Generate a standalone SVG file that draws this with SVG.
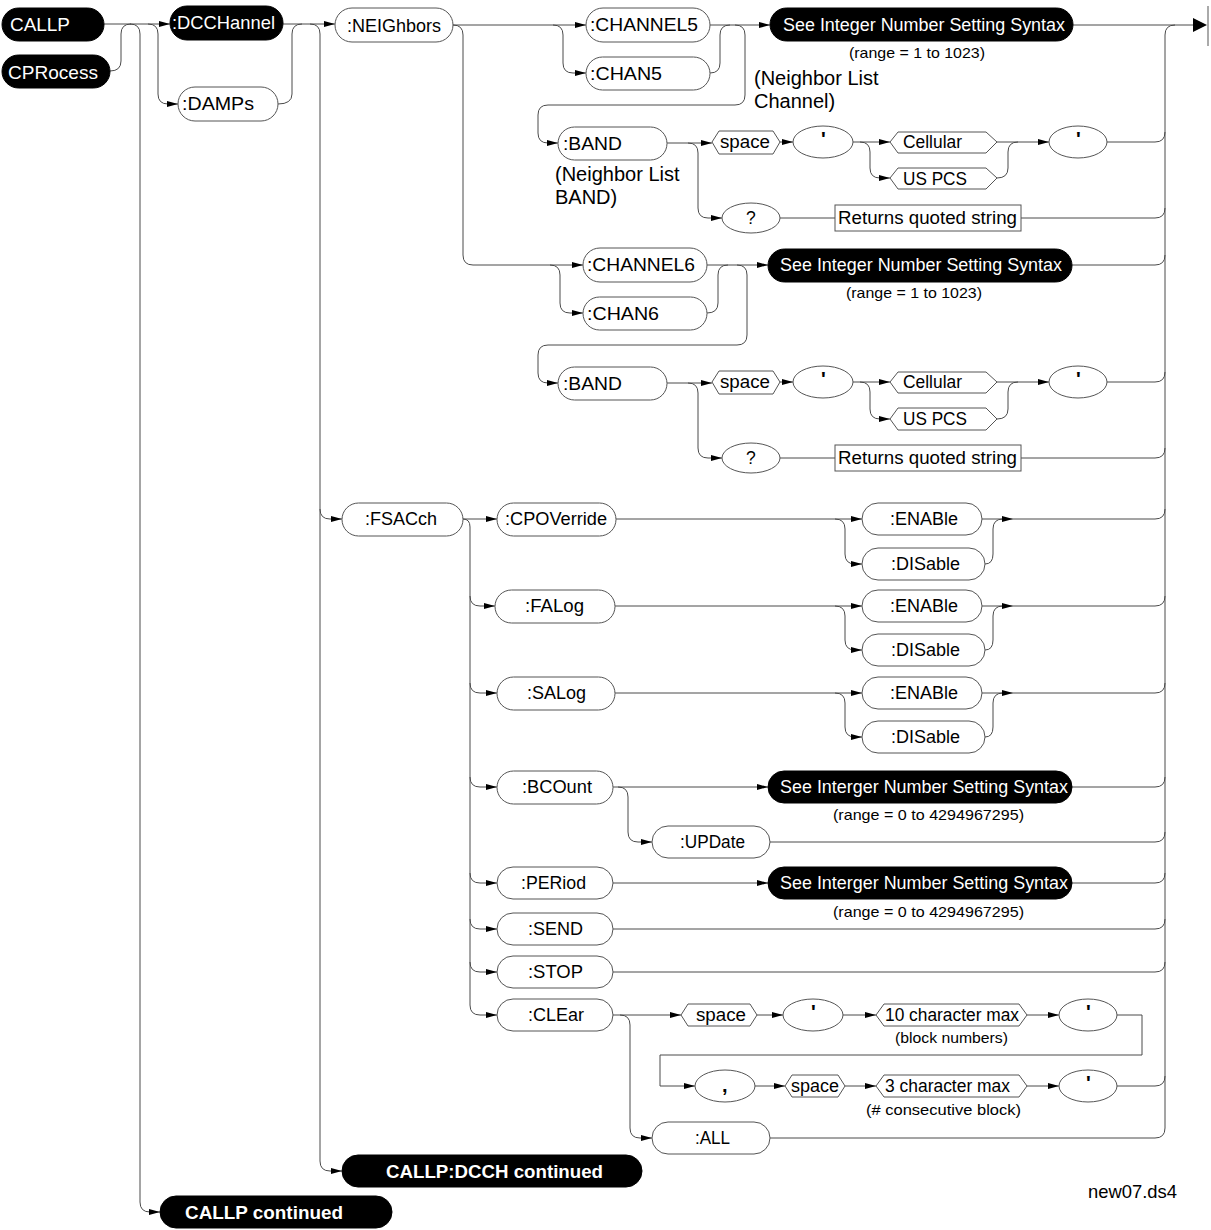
<svg xmlns="http://www.w3.org/2000/svg" width="1211" height="1230" viewBox="0 0 1211 1230">
<defs>
<marker id="ar" markerWidth="11" markerHeight="8" refX="11" refY="4" orient="auto" markerUnits="userSpaceOnUse"><path d="M0,1 L11,4 L0,7 z" fill="#000"/></marker>
<style>
.ln{fill:none;stroke:#4a4a4a;stroke-width:1}
.w{fill:#fff;stroke:#555;stroke-width:1}
.b{fill:#000;stroke:#000}
.t{font-family:"Liberation Sans",Arial,sans-serif;font-size:19px;fill:#000}
.s{font-size:15px}
.m{font-size:17.5px}
.q{font-size:20px;font-weight:bold}
.wt{fill:#fff}
.bd{font-weight:bold}
</style>
</defs>
<rect width="1211" height="1230" fill="#fff"/>
<g id="connectors" class="ln">
<path d="M104,24 H170" marker-end="url(#ar)"/>
<path d="M110,71 Q121,71 121,61 V34 Q121,24 131,24"/>
<path d="M130,24 Q140,24 140,34 V1202 Q140,1212 150,1212 H160" marker-end="url(#ar)"/>
<path d="M148,24 Q158,24 158,34 V94 Q158,104 168,104 H178" marker-end="url(#ar)"/>
<path d="M278,104 Q292,104 292,94 V34 Q292,24 302,24"/>
<path d="M283,24 H335" marker-end="url(#ar)"/>
<path d="M310,24 Q320,24 320,34 V1161 Q320,1171 330,1171 H342" marker-end="url(#ar)"/>
<path d="M320,509 Q320,519 330,519 H342" marker-end="url(#ar)"/>
<path d="M453,25 H586" marker-end="url(#ar)"/>
<path d="M453,25 Q463,25 463,35 V255 Q463,265 473,265 H583" marker-end="url(#ar)"/>
<path d="M553,25 Q563,25 563,35 V63 Q563,73 573,73 H586" marker-end="url(#ar)"/>
<path d="M710,73 Q720,73 720,63 V35 Q720,25 730,25"/>
<path d="M710,25 H770" marker-end="url(#ar)"/>
<path d="M735,25 Q745,25 745,35 V95 Q745,105 735,105 H548 Q538,105 538,115 V133 Q538,143 548,143 H558" marker-end="url(#ar)"/>
<path d="M1073,25 H1193"/>
<path d="M1165,1128 V35 Q1165,25 1175,25"/>
<path d="M667,143 H712" marker-end="url(#ar)"/>
<path d="M688,143 Q698,143 698,153 V208 Q698,218 708,218 H722" marker-end="url(#ar)"/>
<path d="M780,142 H793" marker-end="url(#ar)"/>
<path d="M853,142 H890" marker-end="url(#ar)"/>
<path d="M860,142 Q870,142 870,152 V168 Q870,178 880,178 H890" marker-end="url(#ar)"/>
<path d="M997,142 H1049" marker-end="url(#ar)"/>
<path d="M997,178 Q1008,178 1008,168 V152 Q1008,142 1018,142"/>
<path d="M1107,142 H1155 Q1165,142 1165,132"/>
<path d="M780,218 H835"/>
<path d="M1021,218 H1155 Q1165,218 1165,208"/>
<path d="M550,265 Q560,265 560,275 V303 Q560,313 570,313 H583" marker-end="url(#ar)"/>
<path d="M707,313 Q718,313 718,303 V275 Q718,265 728,265"/>
<path d="M707,265 H768" marker-end="url(#ar)"/>
<path d="M737,265 Q747,265 747,275 V335 Q747,345 737,345 H548 Q538,345 538,355 V373 Q538,383 548,383 H558" marker-end="url(#ar)"/>
<path d="M1072,265 H1155 Q1165,265 1165,255"/>
<path d="M667,383 H712" marker-end="url(#ar)"/>
<path d="M688,383 Q698,383 698,393 V448 Q698,458 708,458 H722" marker-end="url(#ar)"/>
<path d="M780,382 H793" marker-end="url(#ar)"/>
<path d="M853,382 H890" marker-end="url(#ar)"/>
<path d="M860,382 Q870,382 870,392 V409 Q870,419 880,419 H890" marker-end="url(#ar)"/>
<path d="M997,382 H1049" marker-end="url(#ar)"/>
<path d="M997,419 Q1008,419 1008,409 V392 Q1008,382 1018,382"/>
<path d="M1107,382 H1155 Q1165,382 1165,372"/>
<path d="M780,458 H835"/>
<path d="M1021,458 H1155 Q1165,458 1165,448"/>
<path d="M463,519 H497" marker-end="url(#ar)"/>
<path d="M463,519 Q470,519 470,527 V1005 Q470,1015 480,1015 H497" marker-end="url(#ar)"/>
<path d="M470,596 Q470,606 480,606 H495" marker-end="url(#ar)"/>
<path d="M470,683 Q470,693 480,693 H497" marker-end="url(#ar)"/>
<path d="M470,777 Q470,787 480,787 H497" marker-end="url(#ar)"/>
<path d="M470,873 Q470,883 480,883 H497" marker-end="url(#ar)"/>
<path d="M470,919 Q470,929 480,929 H497" marker-end="url(#ar)"/>
<path d="M470,962 Q470,972 480,972 H497" marker-end="url(#ar)"/>
<path d="M616,519 H862" marker-end="url(#ar)"/>
<path d="M835,519 Q845,519 845,529 V554 Q845,564 855,564 H862" marker-end="url(#ar)"/>
<path d="M985,564 Q993,564 993,554 V529 Q993,519 1003,519"/>
<path d="M982,519 H1013" marker-end="url(#ar)"/>
<path d="M1013,519 H1155 Q1165,519 1165,509"/>
<path d="M615,606 H862" marker-end="url(#ar)"/>
<path d="M835,606 Q845,606 845,616 V640 Q845,650 855,650 H862" marker-end="url(#ar)"/>
<path d="M985,650 Q993,650 993,640 V616 Q993,606 1003,606"/>
<path d="M982,606 H1013" marker-end="url(#ar)"/>
<path d="M1013,606 H1155 Q1165,606 1165,596"/>
<path d="M615,693 H862" marker-end="url(#ar)"/>
<path d="M835,693 Q845,693 845,703 V727 Q845,737 855,737 H862" marker-end="url(#ar)"/>
<path d="M985,737 Q993,737 993,727 V703 Q993,693 1003,693"/>
<path d="M982,693 H1013" marker-end="url(#ar)"/>
<path d="M1013,693 H1155 Q1165,693 1165,683"/>
<path d="M613,787 H768" marker-end="url(#ar)"/>
<path d="M618,787 Q628,787 628,797 V832 Q628,842 638,842 H652" marker-end="url(#ar)"/>
<path d="M1072,787 H1155 Q1165,787 1165,777"/>
<path d="M770,842 H1155 Q1165,842 1165,832"/>
<path d="M613,883 H768" marker-end="url(#ar)"/>
<path d="M1072,883 H1155 Q1165,883 1165,873"/>
<path d="M613,929 H1155 Q1165,929 1165,919"/>
<path d="M613,972 H1155 Q1165,972 1165,962"/>
<path d="M613,1015 H681" marker-end="url(#ar)"/>
<path d="M620,1015 Q630,1015 630,1025 V1128 Q630,1138 640,1138 H652" marker-end="url(#ar)"/>
<path d="M757,1015 H783" marker-end="url(#ar)"/>
<path d="M843,1015 H876" marker-end="url(#ar)"/>
<path d="M1027,1015 H1059" marker-end="url(#ar)"/>
<path d="M1117,1015 H1142 V1055 H660 V1086 H695" marker-end="url(#ar)"/>
<path d="M755,1086 H785" marker-end="url(#ar)"/>
<path d="M845,1086 H876" marker-end="url(#ar)"/>
<path d="M1027,1086 H1059" marker-end="url(#ar)"/>
<path d="M1117,1086 H1155 Q1165,1086 1165,1076"/>
<path d="M770,1138 H1155 Q1165,1138 1165,1128"/>
</g>
<g id="end">
<path d="M1193,18 L1207,25 L1193,32 z" fill="#000"/>
<rect x="1207" y="6" width="2" height="40" fill="#aaa"/>
</g>
<g id="n-callp"><rect class="b" x="2" y="8" width="102" height="33" rx="16.5"/><text class="t wt" x="10" y="31" textLength="60" lengthAdjust="spacingAndGlyphs">CALLP</text></g>
<g id="n-cprocess"><rect class="b" x="2" y="55" width="108" height="33" rx="16.5"/><text class="t wt" x="8" y="79" textLength="90" lengthAdjust="spacingAndGlyphs">CPRocess</text></g>
<g id="n-dcchannel"><rect class="b" x="170" y="6" width="113" height="34" rx="17"/><text class="t wt" x="172" y="29" textLength="103" lengthAdjust="spacingAndGlyphs">:DCCHannel</text></g>
<g id="n-damps"><rect class="w" x="178" y="87" width="100" height="34" rx="17"/><text class="t" x="182" y="110" textLength="72" lengthAdjust="spacingAndGlyphs">:DAMPs</text></g>
<g id="n-neighbors"><rect class="w" x="335" y="8" width="118" height="34" rx="17"/><text class="t" x="347" y="32" textLength="94" lengthAdjust="spacingAndGlyphs">:NEIGhbors</text></g>
<g id="n-channel5"><rect class="w" x="586" y="8" width="124" height="34" rx="17"/><text class="t" x="590" y="31" textLength="108" lengthAdjust="spacingAndGlyphs">:CHANNEL5</text></g>
<g id="n-chan5"><rect class="w" x="586" y="57" width="124" height="33" rx="16.5"/><text class="t" x="590" y="80" textLength="72" lengthAdjust="spacingAndGlyphs">:CHAN5</text></g>
<g id="n-seeint1"><rect class="b" x="770" y="8" width="303" height="33" rx="16.5"/><text class="t m wt" x="783" y="31" textLength="282" lengthAdjust="spacingAndGlyphs">See Integer Number Setting Syntax</text><text class="t s" x="849" y="58" textLength="136" lengthAdjust="spacingAndGlyphs">(range = 1 to 1023)</text></g>
<g id="lbl-nlc"><text class="t" x="754" y="85" style="font-size:20px">(Neighbor List</text><text class="t" x="754" y="108" style="font-size:20px">Channel)</text></g>
<g id="n-band1"><rect class="w" x="558" y="127" width="109" height="33" rx="16.5"/><text class="t" x="563" y="150" textLength="59" lengthAdjust="spacingAndGlyphs">:BAND</text><text class="t" x="555" y="181" style="font-size:20px">(Neighbor List</text><text class="t" x="555" y="204" style="font-size:20px">BAND)</text></g>
<g id="n-space1"><polygon class="w" points="712,142 719,131 773,131 780,142 773,154 719,154"/><text class="t m" x="720" y="148" textLength="50" lengthAdjust="spacingAndGlyphs">space</text></g>
<g id="n-q1"><ellipse class="w" cx="823" cy="142" rx="30" ry="16"/><text class="t q" x="821" y="146">'</text></g>
<g id="n-cell1"><polygon class="w" points="890,142 898,132 986,132 997,142 986,153 898,153"/><text class="t m" x="903" y="148" textLength="59" lengthAdjust="spacingAndGlyphs">Cellular</text></g>
<g id="n-uspcs1"><polygon class="w" points="890,178 898,168 986,168 997,178 986,189 898,189"/><text class="t m" x="903" y="185" textLength="64" lengthAdjust="spacingAndGlyphs">US PCS</text></g>
<g id="n-q2"><ellipse class="w" cx="1078" cy="142" rx="29" ry="16"/><text class="t q" x="1076" y="146">'</text></g>
<g id="n-qm1"><ellipse class="w" cx="751" cy="218" rx="29" ry="15"/><text class="t m" x="746" y="224">?</text></g>
<g id="n-ret1"><rect x="835" y="205" width="186" height="26" fill="#fff" stroke="#555"/><text class="t m" x="838" y="224" textLength="179" lengthAdjust="spacingAndGlyphs">Returns quoted string</text></g>
<g id="n-channel6"><rect class="w" x="583" y="248" width="124" height="34" rx="17"/><text class="t" x="587" y="271" textLength="108" lengthAdjust="spacingAndGlyphs">:CHANNEL6</text></g>
<g id="n-chan6"><rect class="w" x="583" y="297" width="124" height="33" rx="16.5"/><text class="t" x="587" y="320" textLength="72" lengthAdjust="spacingAndGlyphs">:CHAN6</text></g>
<g id="n-seeint2"><rect class="b" x="768" y="249" width="304" height="33" rx="16.5"/><text class="t m wt" x="780" y="271" textLength="282" lengthAdjust="spacingAndGlyphs">See Integer Number Setting Syntax</text><text class="t s" x="846" y="298" textLength="136" lengthAdjust="spacingAndGlyphs">(range = 1 to 1023)</text></g>
<g id="n-band2"><rect class="w" x="558" y="367" width="109" height="33" rx="16.5"/><text class="t" x="563" y="390" textLength="59" lengthAdjust="spacingAndGlyphs">:BAND</text></g>
<g id="n-space2"><polygon class="w" points="712,382 719,371 773,371 780,382 773,394 719,394"/><text class="t m" x="720" y="388" textLength="50" lengthAdjust="spacingAndGlyphs">space</text></g>
<g id="n-q3"><ellipse class="w" cx="823" cy="382" rx="30" ry="16"/><text class="t q" x="821" y="386">'</text></g>
<g id="n-cell2"><polygon class="w" points="890,382 898,372 986,372 997,382 986,393 898,393"/><text class="t m" x="903" y="388" textLength="59" lengthAdjust="spacingAndGlyphs">Cellular</text></g>
<g id="n-uspcs2"><polygon class="w" points="890,419 898,408 986,408 997,419 986,430 898,430"/><text class="t m" x="903" y="425" textLength="64" lengthAdjust="spacingAndGlyphs">US PCS</text></g>
<g id="n-q4"><ellipse class="w" cx="1078" cy="382" rx="29" ry="16"/><text class="t q" x="1076" y="386">'</text></g>
<g id="n-qm2"><ellipse class="w" cx="751" cy="458" rx="29" ry="15"/><text class="t m" x="746" y="464">?</text></g>
<g id="n-ret2"><rect x="835" y="445" width="186" height="26" fill="#fff" stroke="#555"/><text class="t m" x="838" y="464" textLength="179" lengthAdjust="spacingAndGlyphs">Returns quoted string</text></g>
<g id="n-fsacch"><rect class="w" x="342" y="503" width="121" height="33" rx="16.5"/><text class="t m" x="365" y="525" textLength="72" lengthAdjust="spacingAndGlyphs">:FSACch</text></g>
<g id="n-cpoverride"><rect class="w" x="497" y="503" width="119" height="33" rx="16.5"/><text class="t m" x="505" y="525" textLength="102" lengthAdjust="spacingAndGlyphs">:CPOVerride</text></g>
<g id="n-en1"><rect class="w" x="862" y="503" width="120" height="32" rx="16"/><text class="t m" x="890" y="525" textLength="68" lengthAdjust="spacingAndGlyphs">:ENABle</text></g>
<g id="n-dis1"><rect class="w" x="862" y="548" width="123" height="32" rx="16"/><text class="t m" x="891" y="570" textLength="69" lengthAdjust="spacingAndGlyphs">:DISable</text></g>
<g id="n-falog"><rect class="w" x="495" y="590" width="120" height="33" rx="16.5"/><text class="t m" x="525" y="612" textLength="59" lengthAdjust="spacingAndGlyphs">:FALog</text></g>
<g id="n-en2"><rect class="w" x="862" y="590" width="120" height="32" rx="16"/><text class="t m" x="890" y="612" textLength="68" lengthAdjust="spacingAndGlyphs">:ENABle</text></g>
<g id="n-dis2"><rect class="w" x="862" y="634" width="123" height="32" rx="16"/><text class="t m" x="891" y="656" textLength="69" lengthAdjust="spacingAndGlyphs">:DISable</text></g>
<g id="n-salog"><rect class="w" x="497" y="677" width="118" height="33" rx="16.5"/><text class="t m" x="527" y="699" textLength="59" lengthAdjust="spacingAndGlyphs">:SALog</text></g>
<g id="n-en3"><rect class="w" x="862" y="677" width="120" height="32" rx="16"/><text class="t m" x="890" y="699" textLength="68" lengthAdjust="spacingAndGlyphs">:ENABle</text></g>
<g id="n-dis3"><rect class="w" x="862" y="721" width="123" height="32" rx="16"/><text class="t m" x="891" y="743" textLength="69" lengthAdjust="spacingAndGlyphs">:DISable</text></g>
<g id="n-bcount"><rect class="w" x="497" y="771" width="116" height="33" rx="16.5"/><text class="t m" x="522" y="793" textLength="70" lengthAdjust="spacingAndGlyphs">:BCOunt</text></g>
<g id="n-seeint3"><rect class="b" x="768" y="771" width="304" height="32" rx="16"/><text class="t m wt" x="780" y="793" textLength="288" lengthAdjust="spacingAndGlyphs">See Interger Number Setting Syntax</text><text class="t s" x="833" y="820" textLength="191" lengthAdjust="spacingAndGlyphs">(range = 0 to 4294967295)</text></g>
<g id="n-update"><rect class="w" x="652" y="826" width="118" height="32" rx="16"/><text class="t m" x="680" y="848" textLength="65" lengthAdjust="spacingAndGlyphs">:UPDate</text></g>
<g id="n-period"><rect class="w" x="497" y="867" width="116" height="32" rx="16"/><text class="t m" x="521" y="889" textLength="65" lengthAdjust="spacingAndGlyphs">:PERiod</text></g>
<g id="n-seeint4"><rect class="b" x="768" y="867" width="304" height="32" rx="16"/><text class="t m wt" x="780" y="889" textLength="288" lengthAdjust="spacingAndGlyphs">See Interger Number Setting Syntax</text><text class="t s" x="833" y="917" textLength="191" lengthAdjust="spacingAndGlyphs">(range = 0 to 4294967295)</text></g>
<g id="n-send"><rect class="w" x="497" y="913" width="116" height="32" rx="16"/><text class="t m" x="528" y="935" textLength="55" lengthAdjust="spacingAndGlyphs">:SEND</text></g>
<g id="n-stop"><rect class="w" x="497" y="956" width="116" height="32" rx="16"/><text class="t m" x="528" y="978" textLength="55" lengthAdjust="spacingAndGlyphs">:STOP</text></g>
<g id="n-clear"><rect class="w" x="497" y="999" width="116" height="32" rx="16"/><text class="t m" x="528" y="1021" textLength="56" lengthAdjust="spacingAndGlyphs">:CLEar</text></g>
<g id="n-space3"><polygon class="w" points="681,1015 688,1004 750,1004 757,1015 750,1026 688,1026"/><text class="t m" x="696" y="1021" textLength="50" lengthAdjust="spacingAndGlyphs">space</text></g>
<g id="n-q5"><ellipse class="w" cx="813" cy="1015" rx="30" ry="16"/><text class="t q" x="811" y="1019">'</text></g>
<g id="n-10char"><polygon class="w" points="876,1015 884,1004 1019,1004 1027,1015 1019,1026 884,1026"/><text class="t m" x="885" y="1021" textLength="134" lengthAdjust="spacingAndGlyphs">10 character max</text><text class="t s" x="895" y="1043" textLength="113" lengthAdjust="spacingAndGlyphs">(block numbers)</text></g>
<g id="n-q6"><ellipse class="w" cx="1088" cy="1015" rx="29" ry="16"/><text class="t q" x="1086" y="1019">'</text></g>
<g id="n-comma"><ellipse class="w" cx="725" cy="1086" rx="30" ry="16"/><text class="t q" x="722" y="1092">,</text></g>
<g id="n-space4"><polygon class="w" points="785,1086 792,1075 838,1075 845,1086 838,1097 792,1097"/><text class="t m" x="791" y="1092" textLength="48" lengthAdjust="spacingAndGlyphs">space</text></g>
<g id="n-3char"><polygon class="w" points="876,1086 884,1075 1019,1075 1027,1086 1019,1097 884,1097"/><text class="t m" x="885" y="1092" textLength="125" lengthAdjust="spacingAndGlyphs">3 character max</text><text class="t s" x="866" y="1115" textLength="155" lengthAdjust="spacingAndGlyphs">(# consecutive block)</text></g>
<g id="n-q7"><ellipse class="w" cx="1088" cy="1086" rx="29" ry="16"/><text class="t q" x="1086" y="1090">'</text></g>
<g id="n-all"><rect class="w" x="652" y="1122" width="118" height="32" rx="16"/><text class="t m" x="695" y="1144" textLength="35" lengthAdjust="spacingAndGlyphs">:ALL</text></g>
<g id="n-dcchcont"><rect class="b" x="342" y="1155" width="300" height="32" rx="16"/><text class="t bd wt" x="386" y="1178" textLength="217" lengthAdjust="spacingAndGlyphs">CALLP:DCCH continued</text></g>
<g id="n-callpcont"><rect class="b" x="160" y="1196" width="232" height="32" rx="16"/><text class="t bd wt" x="185" y="1219" textLength="158" lengthAdjust="spacingAndGlyphs">CALLP continued</text></g>
<text class="t" x="1088" y="1198" textLength="89" lengthAdjust="spacingAndGlyphs">new07.ds4</text>
</svg>
